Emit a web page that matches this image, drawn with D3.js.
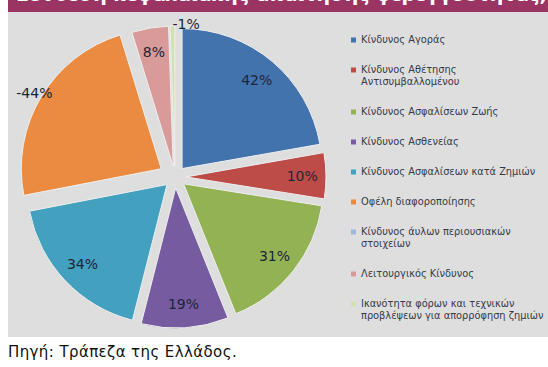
<!DOCTYPE html>
<html>
<head>
<meta charset="utf-8">
<script src="https://cdn.jsdelivr.net/npm/d3@7"></script>
<style>
  html, body { margin: 0; padding: 0; background: #ffffff; }
  svg { display: block; }
</style>
</head>
<body>
<svg id="chart" width="548" height="367"></svg>
<script>
// Composition of the solvency capital requirement by risk module (%)
const categories = [
  "Κίνδυνος Αγοράς",
  "Κίνδυνος Αθέτησης Αντισυμβαλλομένου",
  "Κίνδυνος Ασφαλίσεων Ζωής",
  "Κίνδυνος Ασθενείας",
  "Κίνδυνος Ασφαλίσεων κατά Ζημιών",
  "Οφέλη διαφοροποίησης",
  "Κίνδυνος άυλων περιουσιακών στοιχείων",
  "Λειτουργικός Κίνδυνος",
  "Ικανότητα φόρων και τεχνικών προβλέψεων για απορρόφηση ζημιών"
];
const values = [42, 10, 31, 19, 34, -44, 0, 8, -1];
const colors = ["#4373ad", "#bd4c49", "#93b254", "#775ba0", "#43a0be", "#eb8b41", "#a3b7d9", "#d99a9a", "#d2e0b2"];

// Legend text, wrapped the way it is printed
const legendLines = [
  ["Κίνδυνος Αγοράς"],
  ["Κίνδυνος Αθέτησης", "Αντισυμβαλλομένου"],
  ["Κίνδυνος Ασφαλίσεων Ζωής"],
  ["Κίνδυνος Ασθενείας"],
  ["Κίνδυνος Ασφαλίσεων κατά Ζημιών"],
  ["Οφέλη διαφοροποίησης"],
  ["Κίνδυνος άυλων περιουσιακών", "στοιχείων"],
  ["Λειτουργικός Κίνδυνος"],
  ["Ικανότητα φόρων και τεχνικών", "προβλέψεων για απορρόφηση ζημιών"]
];

const title = "Σύνθεση κεφαλαιακής απαίτησης φερεγγυότητας, 2016";
const source = "Πηγή: Τράπεζα της Ελλάδος.";

const svg = d3.select("#chart");

// title bar (only its lower edge is in view)
svg.append("rect").attr("x", 8).attr("y", 0).attr("width", 540).attr("height", 12)
  .attr("fill", "#9a3462");
svg.append("text").attr("x", 16).attr("y", 1)
  .attr("font-family", "DejaVu Sans").attr("font-weight", "bold").attr("font-size", 19)
  .attr("fill", "#ffffff").text(title);

// chart area
svg.append("rect").attr("x", 8).attr("y", 12).attr("width", 540).attr("height", 325)
  .attr("fill", "#dedede");

// pie
const cx = 175, cy = 177, R = 140;
const data = categories.map((c, i) => ({ name: c, value: values[i], color: colors[i] }));
const pie = d3.pie().sort(null).value(d => Math.abs(d.value));
const arcs = pie(data);
const arc = d3.arc().innerRadius(0).outerRadius(R);

const explode = d => d.data.name === "Οφέλη διαφοροποίησης" ? 16 : 11;
const mid = d => (d.startAngle + d.endAngle) / 2;

const g = svg.append("g").attr("transform", `translate(${cx},${cy})`);

g.selectAll("path.slice")
  .data(arcs.filter(d => d.endAngle > d.startAngle))
  .join("path")
  .attr("class", "slice")
  .attr("d", arc)
  .attr("transform", d => {
    const a = mid(d), o = explode(d);
    return `translate(${Math.sin(a) * o},${-Math.cos(a) * o})`;
  })
  .attr("fill", d => d.data.color)
  .attr("stroke", "#eeeeee")
  .attr("stroke-width", 1);

// value labels
const outside = new Set(["Οφέλη διαφοροποίησης", "Ικανότητα φόρων και τεχνικών προβλέψεων για απορρόφηση ζημιών"]);
g.selectAll("text.val")
  .data(arcs.filter(d => d.data.value !== 0))
  .join("text")
  .attr("class", "val")
  .each(function (d) {
    const a = mid(d), o = explode(d);
    const out = outside.has(d.data.name);
    const r = out ? (d.data.value < -10 ? R + o + 8 : R + o + 2) : R * 0.83 + o;
    d3.select(this)
      .attr("x", Math.sin(a) * r)
      .attr("y", -Math.cos(a) * r)
      .attr("text-anchor", out && d.endAngle - d.startAngle < 0.1 ? "start" : "middle");
  })
  .attr("dy", "0.36em")
  .attr("font-family", "DejaVu Sans")
  .attr("font-size", 14)
  .attr("fill", "#1d2435")
  .text(d => d.data.value + "%");

// legend
const lineH = 12, gap = 18;
let yy = 40;
const legend = svg.append("g");
legendLines.forEach((lines, i) => {
  legend.append("rect").attr("x", 351).attr("y", yy - 2.5).attr("width", 5).attr("height", 5)
    .attr("fill", colors[i]);
  lines.forEach((ln, j) => {
    legend.append("text").attr("x", 361).attr("y", yy + j * lineH).attr("dy", "0.35em")
      .attr("font-family", "DejaVu Sans").attr("font-size", 9.8).attr("fill", "#363a48")
      .text(ln);
  });
  yy += lines.length * lineH + gap;
});

// source note
svg.append("text").attr("x", 8).attr("y", 352).attr("dy", "0.36em")
  .attr("font-family", "DejaVu Sans").attr("font-size", 15).attr("letter-spacing", 0.4)
  .attr("fill", "#111111")
  .text(source);
</script>
</body>
</html>
